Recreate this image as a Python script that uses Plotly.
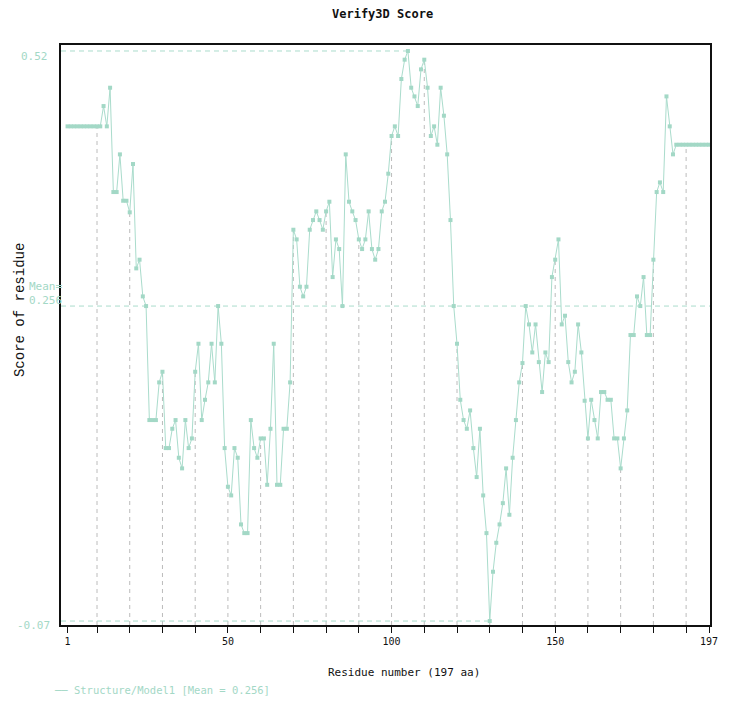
import plotly.graph_objects as go

# ---------------- data ----------------
residues = list(range(1, 198))
scores = (
    [0.442] * 11
    + [0.463, 0.442, 0.482, 0.374, 0.374, 0.413, 0.365, 0.365, 0.353,   # 12-20
       0.403, 0.295, 0.304, 0.266, 0.256, 0.138, 0.138, 0.138, 0.177, 0.188,  # 21-30
       0.109, 0.109, 0.129, 0.138, 0.099, 0.088, 0.138, 0.109, 0.119, 0.188,  # 31-40
       0.217, 0.138, 0.159, 0.177, 0.217, 0.177, 0.256, 0.217, 0.109, 0.069,  # 41-50
       0.060, 0.109, 0.099, 0.030, 0.021, 0.021, 0.138, 0.109, 0.099, 0.119,  # 51-60
       0.119, 0.071, 0.129, 0.217, 0.071, 0.071, 0.129, 0.129, 0.177, 0.335,  # 61-70
       0.325, 0.276, 0.266, 0.276, 0.335, 0.345, 0.354, 0.345, 0.335, 0.354,  # 71-80
       0.364, 0.286, 0.325, 0.315, 0.256, 0.413, 0.364, 0.354, 0.345, 0.325,  # 81-90
       0.315, 0.325, 0.354, 0.315, 0.304, 0.315, 0.354, 0.364, 0.393, 0.432,  # 91-100
       0.442, 0.432, 0.491, 0.511, 0.520, 0.482, 0.473, 0.463, 0.501, 0.511,  # 101-110
       0.482, 0.432, 0.442, 0.423, 0.482, 0.453, 0.413, 0.345, 0.256, 0.217,  # 111-120
       0.159, 0.138, 0.129, 0.148, 0.109, 0.079, 0.129, 0.060, 0.021, -0.070, # 121-130
       -0.019, 0.011, 0.030, 0.052, 0.088, 0.040, 0.099, 0.138, 0.177, 0.197, # 131-140
       0.256, 0.237, 0.208, 0.237, 0.198, 0.167, 0.208, 0.198, 0.286, 0.304,  # 141-150
       0.325, 0.237, 0.246, 0.198, 0.177, 0.188, 0.237, 0.208, 0.158, 0.119,  # 151-160
       0.159, 0.138, 0.119, 0.167, 0.167, 0.159, 0.159, 0.119, 0.119, 0.088,  # 161-170
       0.119, 0.148, 0.226, 0.226, 0.266, 0.256, 0.286, 0.226, 0.226, 0.304,  # 171-180
       0.374, 0.384, 0.374, 0.473, 0.442, 0.413]                             # 181-186
    + [0.423] * 11
)
mean_value = 0.256
x_tick_vals = [1] + list(range(10, 191, 10)) + [197]
x_tick_labels = {1: "1", 50: "50", 100: "100", 150: "150", 197: "197"}
drop_residues = list(range(10, 191, 10))

title_text = "Verify3D Score"
x_title = "Residue number (197 aa)"
y_title = "Score of residue"
legend_text = "Structure/Model1 [Mean = 0.256]"

# ---------------- style ----------------
TEAL = "#aadccc"
TEAL_MARK = "#a3d8c6"
TEAL_TEXT = "#a3d8c6"
GREY = "#bcbcbc"
MONO = "DejaVu Sans Mono"
X_RANGE = [-1.0, 197.3]
Y_RANGE = [-0.0741, 0.5262]

ymax = max(scores)
ymin = min(scores)
r_max = residues[scores.index(ymax)]
r_min = residues[scores.index(ymin)]

fig = go.Figure()

# drop lines from points at every 10th residue down to the x axis
dx, dy = [], []
for r in drop_residues:
    v = scores[residues.index(r)]
    dx += [r, r, None]
    dy += [Y_RANGE[0], v, None]
fig.add_trace(go.Scatter(x=dx, y=dy, mode="lines",
                         line=dict(color=GREY, width=1, dash="4px,4px"),
                         hoverinfo="skip", showlegend=False))

# max / min / mean reference lines
fig.add_trace(go.Scatter(x=[X_RANGE[0], r_max], y=[ymax, ymax], mode="lines",
                         line=dict(color=TEAL, width=1, dash="5px,4px"),
                         hoverinfo="skip", showlegend=False))
fig.add_trace(go.Scatter(x=[X_RANGE[0], r_min], y=[ymin, ymin], mode="lines",
                         line=dict(color=TEAL, width=1, dash="5px,4px"),
                         hoverinfo="skip", showlegend=False))
fig.add_trace(go.Scatter(x=[X_RANGE[0], X_RANGE[1]], y=[mean_value, mean_value], mode="lines",
                         line=dict(color=TEAL, width=1, dash="5px,4px"),
                         hoverinfo="skip", showlegend=False))

# main score line
fig.add_trace(go.Scatter(x=residues, y=scores, mode="lines+markers",
                         line=dict(color=TEAL, width=1),
                         marker=dict(symbol="square", size=4, color=TEAL_MARK, line=dict(width=0)),
                         name=legend_text, showlegend=False))

annotations = [
    dict(text=title_text, xref="paper", yref="paper", x=0.495, y=1, yshift=31,
         xanchor="center", yanchor="middle", showarrow=False,
         font=dict(family=MONO, size=12, color="#111111", weight="bold")),
    dict(text=x_title, xref="paper", yref="paper", x=0.5285, y=0, yshift=-47,
         xanchor="center", yanchor="middle", showarrow=False,
         font=dict(family=MONO, size=11, color="#111111")),
    dict(text=y_title, xref="paper", yref="paper", x=0, y=0.543, xshift=-41,
         xanchor="center", yanchor="middle", textangle=-90, showarrow=False,
         font=dict(family="Liberation Mono", size=14, color="#111111")),
    dict(text=f"{ymax:.2f}", xref="paper", yref="y", x=0, y=ymax, xshift=-11, yshift=-6,
         xanchor="right", yanchor="middle", showarrow=False,
         font=dict(family=MONO, size=11, color=TEAL_TEXT)),
    dict(text=f"{ymin:.2f}", xref="paper", yref="y", x=0, y=ymin, xshift=-9, yshift=-4,
         xanchor="right", yanchor="middle", showarrow=False,
         font=dict(family=MONO, size=11, color=TEAL_TEXT)),
    dict(text=f"Mean=<br>{mean_value:.3f}", xref="paper", yref="y", x=0, y=mean_value,
         xshift=-34, yshift=13, xanchor="left", yanchor="middle", align="left",
         showarrow=False, font=dict(family=MONO, size=11, color=TEAL_TEXT)),
    dict(text="── " + legend_text, xref="paper", yref="paper", x=0, y=0, xshift=-9, yshift=-65,
         xanchor="left", yanchor="middle", showarrow=False,
         font=dict(family=MONO, size=10.5, color=TEAL_TEXT)),
]

# page body has an 8px margin, so the figure is offset by 8px right and down
fig.update_layout(
    width=722, height=697,
    margin=dict(l=53, r=20, t=37, b=80),
    paper_bgcolor="white", plot_bgcolor="white",
    showlegend=False,
    annotations=annotations,
    xaxis=dict(range=X_RANGE, showgrid=False, zeroline=False,
               showline=True, mirror=True, linecolor="#111111", linewidth=1.5,
               ticks="outside", ticklen=6, tickcolor="#111111", tickwidth=1,
               tickvals=x_tick_vals,
               ticktext=[x_tick_labels.get(v, "") for v in x_tick_vals],
               tickfont=dict(family=MONO, size=10, color="#111111")),
    yaxis=dict(range=Y_RANGE, showgrid=False, zeroline=False,
               showline=True, mirror=True, linecolor="#111111", linewidth=1.5,
               ticks="", showticklabels=False),
)

fig.write_html("out.html")
